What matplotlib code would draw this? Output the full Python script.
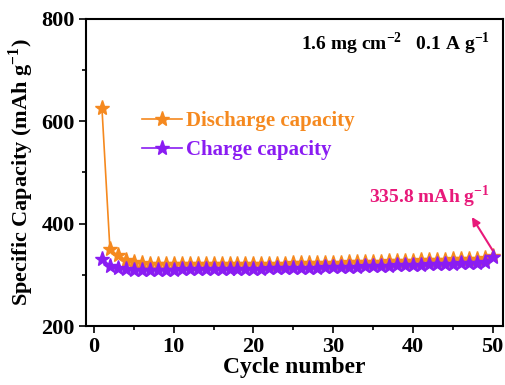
import numpy as np
import matplotlib
matplotlib.use("Agg")
import matplotlib.pyplot as plt
from matplotlib.ticker import MultipleLocator

plt.rcParams["font.family"] = ["Liberation Serif", "DejaVu Serif"]
plt.rcParams["font.weight"] = "bold"
plt.rcParams["mathtext.fontset"] = "custom"
plt.rcParams["mathtext.rm"] = "Liberation Serif:bold"
plt.rcParams["mathtext.bf"] = "Liberation Serif:bold"

cycles = list(range(1, 51))
discharge = [625, 350, 338, 330, 326, 323, 322, 321, 321, 321,
             321, 321, 321, 321, 321, 322, 322, 322, 322, 322,
             322, 322, 322, 322, 323, 323, 323, 323, 324, 324,
             324, 325, 325, 325, 326, 326, 327, 327, 328, 328,
             329, 329, 330, 330, 331, 331, 332, 332, 333, 337]
charge = [332, 318, 314, 312, 310, 309, 309, 310, 310, 310,
          311, 311, 311, 311, 312, 312, 312, 312, 312, 312,
          312, 313, 313, 313, 313, 314, 314, 314, 315, 315,
          315, 316, 316, 317, 317, 318, 318, 319, 319, 320,
          320, 321, 321, 322, 322, 323, 323, 324, 325, 335.8]

orange = "#f5891f"
purple = "#8a1cf2"
pink = "#e8197a"

fig = plt.figure(figsize=(5.06, 3.85), dpi=100)
ax = fig.add_axes([0.170, 0.153, 0.824, 0.798])

ax.plot(cycles, discharge, "-*", color=orange, ms=11, lw=1.2,
        label="Discharge capacity")
ax.plot(cycles, charge, "-*", color=purple, ms=11, lw=1.2,
        label="Charge capacity")

ax.set_xlim(-1, 51.3)
ax.set_ylim(200, 800)
ax.xaxis.set_major_locator(MultipleLocator(10))
ax.xaxis.set_minor_locator(MultipleLocator(5))
ax.yaxis.set_major_locator(MultipleLocator(200))
ax.yaxis.set_minor_locator(MultipleLocator(100))
ax.tick_params(which="both", direction="out", width=1.2, labelsize=16, pad=3)
ax.tick_params(which="major", length=5)
ax.tick_params(which="minor", length=3)
for s in ax.spines.values():
    s.set_linewidth(1.5)

ax.set_xlabel("Cycle number", fontsize=17, fontweight="bold", labelpad=0)
ax.set_ylabel("Specific Capacity (mAh g$^{-1}$)", fontsize=16,
              fontweight="bold", labelpad=4)

ax.text(0.969, 0.918, "1.6 mg cm$^{-2}$   0.1 A g$^{-1}$", transform=ax.transAxes,
        ha="right", va="center", fontsize=14, fontweight="bold", color="black")

ax.annotate("335.8 mAh g$^{-1}$", xy=(47.4, 413), xytext=(49.6, 453),
            ha="right", va="center", fontsize=14, fontweight="bold", color=pink)
ax.annotate("", xy=(47.4, 413), xytext=(50.0, 348),
            arrowprops=dict(arrowstyle="-|>", color=pink, lw=1.5,
                            mutation_scale=12, shrinkA=0, shrinkB=0))

leg = ax.legend(loc="center left", bbox_to_anchor=(0.115, 0.62), frameon=False,
                fontsize=15, handlelength=1.9, handletextpad=0.2,
                borderaxespad=0, labelspacing=0.45)
for txt, c in zip(leg.get_texts(), [orange, purple]):
    txt.set_color(c)

fig.savefig("out.png", dpi=100)
